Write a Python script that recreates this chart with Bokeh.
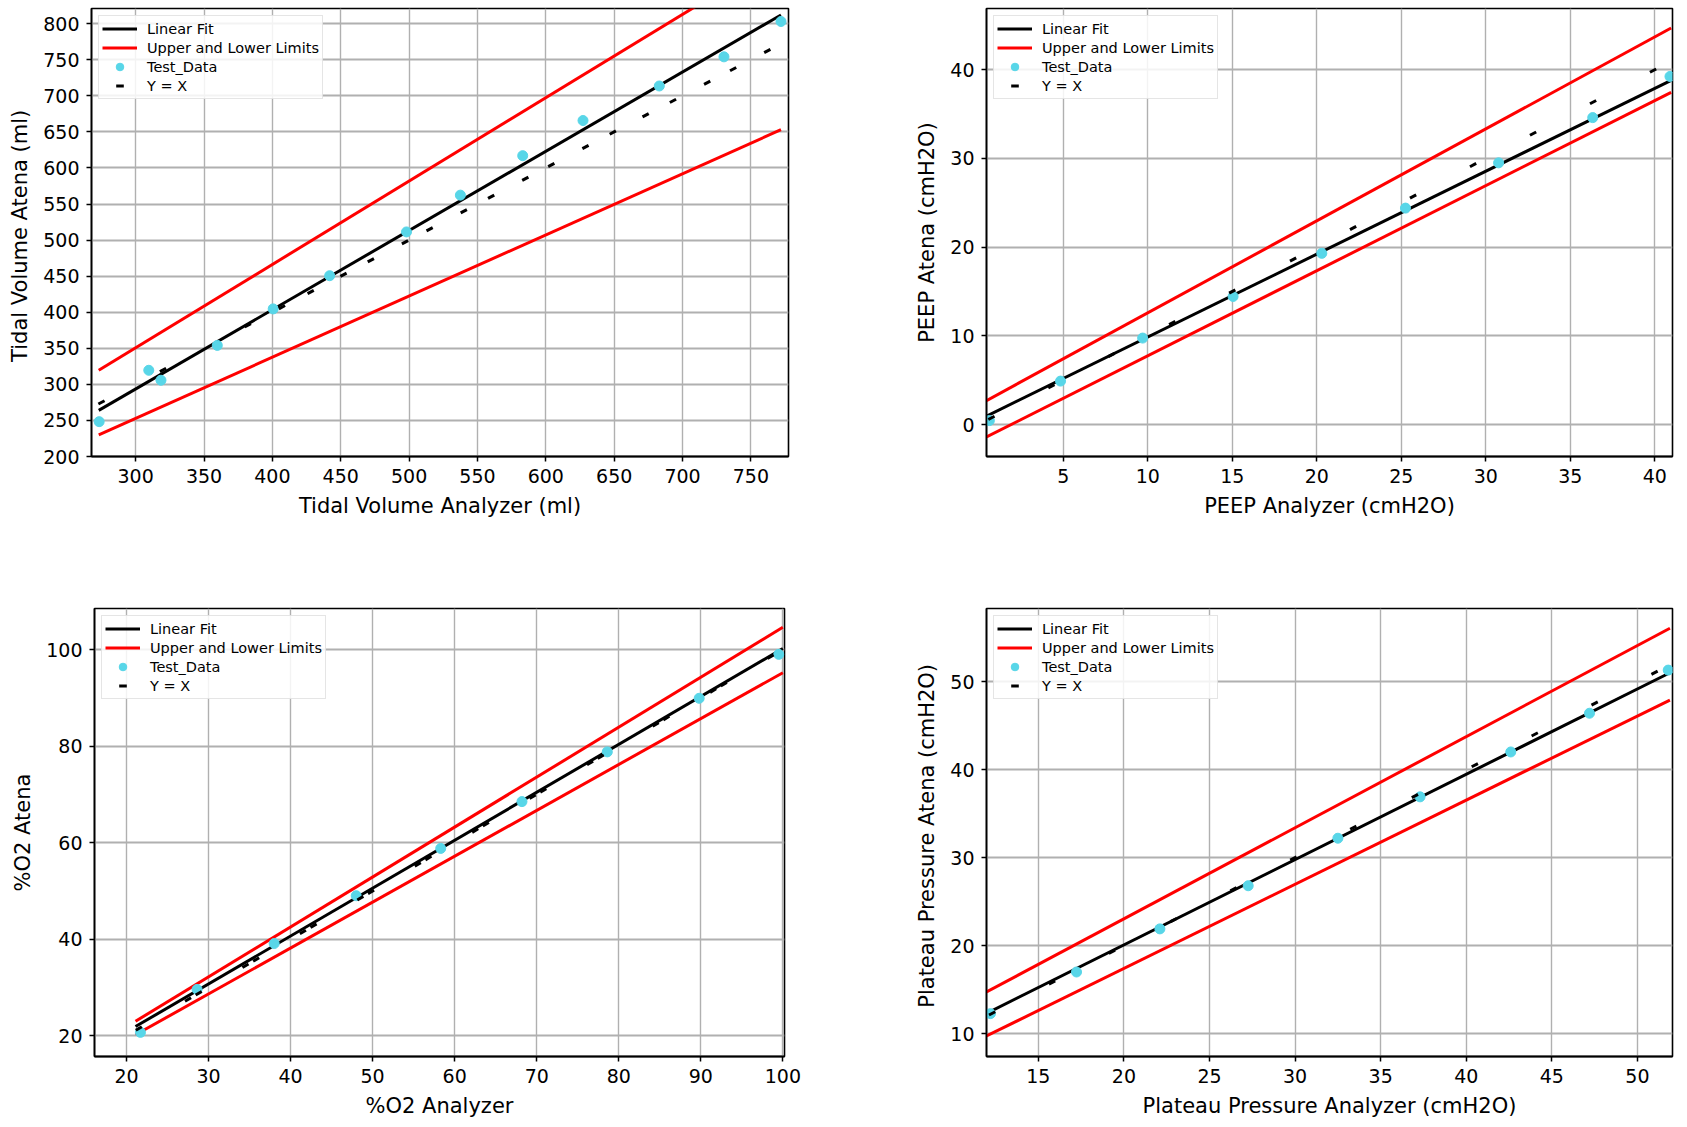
import math
from bokeh.plotting import figure
from bokeh.layouts import column, row
from bokeh.models import Range1d, FixedTicker, Legend, LegendItem
from bokeh.embed import file_html
from bokeh.resources import INLINE

# ---------------- data ----------------
# Tidal volume (ml)
tv_x = [273.3, 309.6, 318.5, 359.7, 400.6, 441.9, 498.1, 537.5, 583.1, 627.2, 683.0, 730.3, 772.0]
tv_y = [248.3, 319.5, 305.7, 354.0, 404.6, 450.6, 511.3, 562.3, 617.0, 665.7, 713.6, 754.0, 803.0]
tv_line_x = [273.0, 772.0]
tv_fit_y = [264.0, 812.0]
tv_upper_y = [319.5, 896.0]
tv_lower_y = [230.0, 653.0]
tv_yx = [275, 320, 382, 407, 428, 452, 472, 497, 515, 540, 560, 585, 604, 629, 649, 673, 693, 718, 737, 762]
tv_xticks = [300, 350, 400, 450, 500, 550, 600, 650, 700, 750]
tv_yticks = [200, 250, 300, 350, 400, 450, 500, 550, 600, 650, 700, 750, 800]

# PEEP (cmH2O)
peep_x = [0.63, 4.84, 9.7, 15.05, 20.3, 25.25, 30.76, 36.33, 40.9]
peep_y = [0.45, 4.9, 9.75, 14.44, 19.3, 24.4, 29.5, 34.6, 39.24]
peep_line_x = [0.46, 40.97]
peep_fit_y = [0.95, 38.8]
peep_upper_y = [2.7, 44.7]
peep_lower_y = [-1.4, 37.45]
peep_yx = [0.75, 4.3, 7.85, 11.45, 15.0, 18.6, 22.15, 25.7, 29.25, 32.8, 36.35, 39.9]
peep_xticks = [5, 10, 15, 20, 25, 30, 35, 40]
peep_yticks = [0, 10, 20, 30, 40]

# %O2
o2_x = [21.7, 28.6, 38.0, 48.0, 58.3, 68.2, 78.6, 89.8, 99.5]
o2_y = [20.7, 29.6, 39.1, 49.0, 58.8, 68.5, 78.8, 89.9, 99.0]
o2_line_x = [21.1, 100.0]
o2_fit_y = [21.9, 100.2]
o2_upper_y = [23.0, 104.6]
o2_lower_y = [20.2, 95.2]
o2_yx = [21.5, 27.5, 28.8, 34.5, 35.8, 41.5, 42.8, 48.5, 49.8, 55.5, 56.8, 62.5, 63.8,
         69.5, 70.8, 76.5, 77.8, 84.5, 85.8, 91.5, 92.8, 98.5]
o2_xticks = [20, 30, 40, 50, 60, 70, 80, 90, 100]
o2_yticks = [20, 40, 60, 80, 100]

# Plateau pressure (cmH2O)
pp_x = [12.2, 17.23, 22.1, 27.26, 32.5, 37.3, 42.6, 47.2, 51.8]
pp_y = [12.27, 17.0, 21.9, 26.8, 32.2, 36.9, 42.0, 46.4, 51.3]
pp_line_x = [11.97, 51.9]
pp_fit_y = [12.3, 51.0]
pp_upper_y = [14.73, 56.06]
pp_lower_y = [9.73, 47.9]
pp_yx = [12.3, 15.8, 19.3, 22.9, 26.4, 29.9, 33.4, 37.0, 40.5, 44.0, 47.5, 51.0]
pp_xticks = [15, 20, 25, 30, 35, 40, 45, 50]
pp_yticks = [10, 20, 30, 40, 50]

CYAN = "#58d6e8"
FONT = "DejaVu Sans"


def panel(xs, ys, line_x, fit_y, up_y, lo_y, yx, xr, yr, xticks, yticks,
          xlabel, ylabel, width, height, bl, br, bt, bb):
    p = figure(width=width, height=height, x_range=Range1d(*xr), y_range=Range1d(*yr),
               output_backend="svg", toolbar_location=None,
               min_border_left=bl, min_border_right=br, min_border_top=bt, min_border_bottom=bb)
    p.background_fill_color = "white"
    p.border_fill_color = "white"
    p.outline_line_color = "black"
    p.outline_line_width = 1.6
    p.outline_line_alpha = 1.0

    for ax, ticks, lab in ((p.xaxis[0], xticks, xlabel), (p.yaxis[0], yticks, ylabel)):
        ax.ticker = FixedTicker(ticks=ticks)
        ax.axis_label = lab
        ax.axis_label_text_font = FONT
        ax.axis_label_text_font_size = "21px"
        ax.axis_label_text_font_style = "normal"
        ax.axis_label_text_color = "black"
        ax.axis_label_standoff = 8
        ax.major_label_text_font = FONT
        ax.major_label_text_font_size = "19px"
        ax.major_label_text_color = "black"
        ax.major_label_standoff = 7
        ax.major_tick_out = 5
        ax.major_tick_in = 0
        ax.minor_tick_out = 0
        ax.minor_tick_in = 0
        ax.major_tick_line_color = "black"
        ax.major_tick_line_width = 1.5
        ax.axis_line_color = "black"
        ax.axis_line_width = 1.6
    p.xaxis[0].axis_line_width = 2.2

    p.xgrid.grid_line_color = "#b0b0b0"
    p.xgrid.grid_line_width = 1.4
    p.ygrid.grid_line_color = "#b0b0b0"
    p.ygrid.grid_line_width = 2.0

    # on-screen angle of the Y = X line (for the small dash marks)
    fw = width - bl - br
    fh = height - bt - bb
    ang = math.atan2(fh / (yr[1] - yr[0]), fw / (xr[1] - xr[0]))

    r_fit = p.line(line_x, fit_y, line_color="black", line_width=3)
    r_up = p.line(line_x, up_y, line_color="#ff0000", line_width=3)
    p.line(line_x, lo_y, line_color="#ff0000", line_width=3)
    r_pts = p.scatter(xs, ys, marker="circle", size=10, fill_color=CYAN, line_color=CYAN)
    r_yx = p.scatter(yx, yx, marker="dash", size=7, angle=ang, line_color="black",
                     line_width=3, fill_color="black")

    leg = Legend(items=[LegendItem(label="Linear Fit", renderers=[r_fit]),
                        LegendItem(label="Upper and Lower Limits", renderers=[r_up]),
                        LegendItem(label="Test_Data", renderers=[r_pts]),
                        LegendItem(label="Y = X", renderers=[r_yx])],
                 location="top_left")
    leg.margin = 7
    leg.padding = 3
    leg.spacing = 0
    leg.label_height = 15
    leg.glyph_height = 19
    leg.glyph_width = 35
    leg.label_standoff = 10
    leg.label_text_font = FONT
    leg.label_text_font_size = "14.5px"
    leg.label_text_color = "black"
    leg.border_line_color = "#cccccc"
    leg.border_line_width = 1
    leg.background_fill_color = "white"
    leg.background_fill_alpha = 0.85
    p.add_layout(leg)
    return p


p1 = panel(tv_x, tv_y, tv_line_x, tv_fit_y, tv_upper_y, tv_lower_y, tv_yx,
           (267.7, 777.5), (200, 821), tv_xticks, tv_yticks,
           "Tidal Volume Analyzer (ml)", "Tidal Volume  Atena (ml)",
           width=803, height=592, bl=91, br=15, bt=8, bb=136)
p2 = panel(peep_x, peep_y, peep_line_x, peep_fit_y, peep_upper_y, peep_lower_y, peep_yx,
           (0.46, 41.05), (-3.6, 46.9), peep_xticks, peep_yticks,
           "PEEP Analyzer (cmH2O)", "PEEP Atena (cmH2O)",
           width=879, height=592, bl=183, br=10, bt=8, bb=136)
p3 = panel(o2_x, o2_y, o2_line_x, o2_fit_y, o2_upper_y, o2_lower_y, o2_yx,
           (16.1, 100.2), (15.7, 108.5), o2_xticks, o2_yticks,
           "%O2 Analyzer", "%O2 Atena",
           width=807, height=532, bl=94, br=23, bt=16, bb=68)
p4 = panel(pp_x, pp_y, pp_line_x, pp_fit_y, pp_upper_y, pp_lower_y, pp_yx,
           (11.97, 52.05), (7.4, 58.3), pp_xticks, pp_yticks,
           "Plateau Pressure Analyzer (cmH2O)", "Plateau Pressure  Atena (cmH2O)",
           width=875, height=532, bl=179, br=10, bt=16, bb=68)

layout = column(row(p1, p2, spacing=0), row(p3, p4, spacing=0), spacing=0)

with open("out.html", "w") as f:
    f.write(file_html(layout, INLINE))
